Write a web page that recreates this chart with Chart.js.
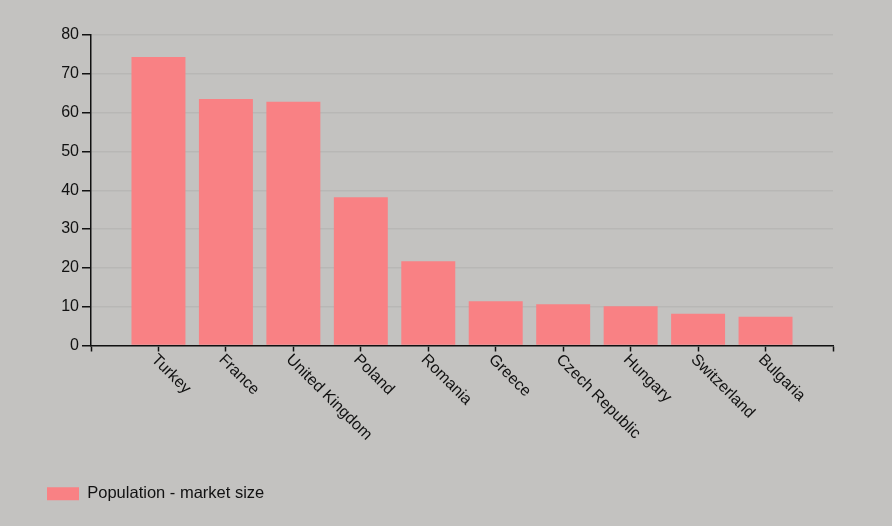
<!DOCTYPE html>
<html lang="en">
<head>
  <meta charset="utf-8">
  <title>Population - market size</title>
  <script src="https://cdn.jsdelivr.net/npm/chart.js"></script>
  <style>
    html, body {
      margin: 0;
      padding: 0;
      background: #c3c2c0;
    }
    #wrap {
      width: 892px;
      height: 526px;
    }
  </style>
</head>
<body>
<div id="wrap">
  <canvas id="popChart" width="892" height="526"></canvas>
</div>

<script>
  // data (millions)
  const countries = ['Turkey', 'France', 'United Kingdom', 'Poland', 'Romania',
    'Greece', 'Czech Republic', 'Hungary', 'Switzerland', 'Bulgaria'];
  const population = [74.3, 63.5, 62.8, 38.2, 21.7, 11.4, 10.6, 10.1, 8.2, 7.4];
  const yTicks = [0, 10, 20, 30, 40, 50, 60, 70, 80];
  const seriesName = 'Population - market size';

  // empty slots at both ends give the margin the original axis has
  const labels = [''].concat(countries, ['']);
  const values = [null].concat(population, [null]);

  // x labels run down to the right, which chart.js can't do by itself
  const slantLabels = {
    id: 'slantLabels',
    afterDraw(chart) {
      const x = chart.scales.x;
      const ctx = chart.ctx;
      ctx.save();
      ctx.font = '16px "Liberation Sans", Arial, sans-serif';
      ctx.fillStyle = '#111';
      ctx.textAlign = 'left';
      ctx.textBaseline = 'top';
      labels.forEach((lab, i) => {
        if (!lab) return;
        ctx.save();
        ctx.translate(x.getPixelForValue(i) + 1, x.top + 6);
        ctx.rotate(Math.PI / 4);
        ctx.fillText(lab, 0, 0);
        ctx.restore();
      });
      ctx.restore();
    }
  };

  const ctx = document.getElementById('popChart').getContext('2d');
  const chart = new Chart(ctx, {
    type: 'bar',
    data: {
      labels: labels,
      datasets: [{
        label: seriesName,
        data: values,
        backgroundColor: '#f98184',
        barPercentage: 0.8,
        categoryPercentage: 1.0
      }]
    },
    options: {
      responsive: false,
      animation: false,
      devicePixelRatio: 1,
      layout: {
        padding: { left: 37, right: 59, top: 35, bottom: 14 }
      },
      plugins: {
        legend: {
          position: 'bottom',
          align: 'start',
          labels: {
            boxWidth: 32,
            boxHeight: 13,
            padding: 10,
            color: '#111',
            font: { family: '"Liberation Sans", Arial, sans-serif', size: 16.5 }
          }
        },
        tooltip: { enabled: false }
      },
      scales: {
        x: {
          offset: false,
          ticks: { display: false },
          grid: {
            offset: false,
            drawOnChartArea: false,
            drawTicks: true,
            tickLength: 6,
            tickColor: '#111',
            tickWidth: 1.5
          },
          border: { color: '#111', width: 1.5 },
          afterFit: (scale) => { scale.height = 130; }
        },
        y: {
          min: 0,
          max: 80,
          afterBuildTicks: (scale) => { scale.ticks = yTicks.map(v => ({ value: v })); },
          ticks: {
            color: '#111',
            padding: 3,
            font: { family: '"Liberation Sans", Arial, sans-serif', size: 16 }
          },
          grid: {
            color: '#b8b7b5',
            lineWidth: 1.5,
            tickColor: '#111',
            tickLength: 9,
            tickWidth: 1.5
          },
          border: { color: '#111', width: 1.5 },
          afterFit: (scale) => { scale.width = 54; }
        }
      }
    },
    plugins: [slantLabels]
  });
</script>
</body>
</html>
